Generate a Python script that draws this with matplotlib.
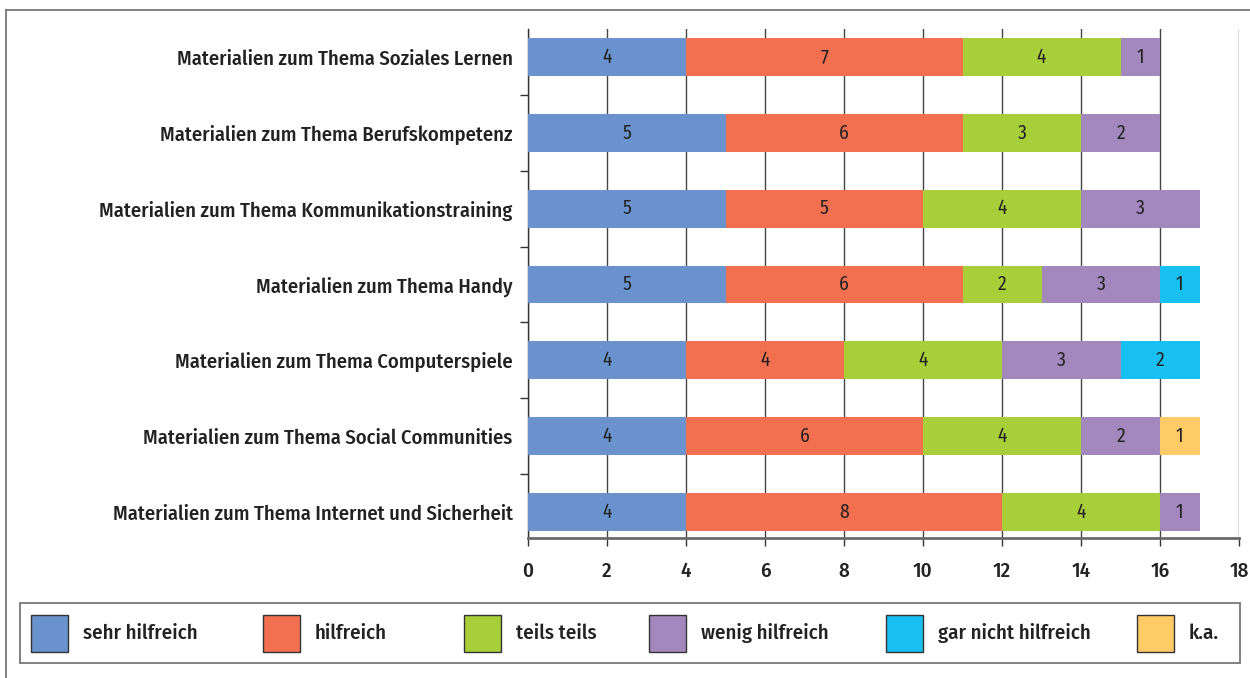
import matplotlib
matplotlib.use("Agg")
import matplotlib.pyplot as plt
from matplotlib.patches import Rectangle
from matplotlib.lines import Line2D
import numpy as np

plt.rcParams['font.family'] = ['Fira Sans Condensed', 'DejaVu Sans']

# categories listed bottom to top
themen = [
    "Materialien zum Thema Internet und Sicherheit",
    "Materialien zum Thema Social Communities",
    "Materialien zum Thema Computerspiele",
    "Materialien zum Thema Handy",
    "Materialien zum Thema Kommunikationstraining",
    "Materialien zum Thema Berufskompetenz",
    "Materialien zum Thema Soziales Lernen",
]
sehr_hilfreich = [4, 4, 4, 5, 5, 5, 4]
hilfreich = [8, 6, 4, 6, 5, 6, 7]
teils_teils = [4, 4, 4, 2, 4, 3, 4]
wenig_hilfreich = [1, 2, 3, 3, 3, 2, 1]
gar_nicht = [0, 0, 2, 1, 0, 0, 0]
keine_angabe = [0, 1, 0, 0, 0, 0, 0]

serien = [sehr_hilfreich, hilfreich, teils_teils, wenig_hilfreich, gar_nicht, keine_angabe]
namen = ["sehr hilfreich", "hilfreich", "teils teils", "wenig hilfreich",
         "gar nicht hilfreich", "k.a."]
farben = ["#6A93CD", "#F2704F", "#A8CE3A", "#A388BE", "#17C0F0", "#FFCB66"]

W, H = 1250, 678
fig = plt.figure(figsize=(W / 100, H / 100), dpi=100)
ax = fig.add_axes([528 / W, 1 - 538 / H, (1239 - 528) / W, (538 - 29) / H])

y = np.arange(len(themen))
links = np.zeros(len(themen))
for werte, farbe in zip(serien, farben):
    werte = np.array(werte)
    ax.barh(y, werte, left=links, height=0.5, color=farbe, zorder=3)
    for yi, l, v in zip(y, links, werte):
        if v > 0:
            ax.text(l + v / 2, yi, str(v), ha="center", va="center",
                    fontsize=14, color="#222222", zorder=4)
    links += werte

ax.set_xlim(0, 18)
ax.set_ylim(-0.343, 6.369)
ax.set_xticks(range(0, 19, 2))
ax.set_yticks(y)
ax.set_yticklabels(themen, fontsize=14.8, fontweight="medium", color="#222222")
ax.set_yticks(y[:-1] + 0.5, minor=True)
ax.tick_params(axis="y", which="major", length=0, pad=11)
ax.tick_params(axis="y", which="minor", length=6, width=1, color="#333333", direction="out")
ax.tick_params(axis="x", length=6, width=1, color="#333333", pad=11,
               labelsize=15, labelcolor="#222222")
for lbl in ax.get_xticklabels():
    lbl.set_fontweight("medium")

ax.grid(axis="x", color="#444444", linewidth=1, zorder=0)
ax.set_axisbelow(True)
for s in ["top", "right"]:
    ax.spines[s].set_visible(False)
ax.spines["left"].set_color("#333333")
ax.spines["left"].set_linewidth(1)
ax.spines["bottom"].set_color("#6a6a6a")
ax.spines["bottom"].set_linewidth(2)

# outer frame lines (left and top)
fig.add_artist(Line2D([6 / W, 6 / W], [0, 1 - 9.5 / H], color="#777777", lw=1.3))
fig.add_artist(Line2D([6 / W, 1], [1 - 9.5 / H, 1 - 9.5 / H], color="#777777", lw=1.3))

# legend box with manually spaced entries
fig.add_artist(Rectangle((20 / W, 1 - 663 / H), (1240 - 20) / W, 60 / H,
                         transform=fig.transFigure, facecolor="white",
                         edgecolor="#777777", lw=1.3))
leg_x = [31, 263, 464, 649, 886, 1137]
for x0, name, farbe in zip(leg_x, namen, farben):
    fig.add_artist(Rectangle((x0 / W, 1 - 652 / H), 37 / W, 37 / H,
                             transform=fig.transFigure, facecolor=farbe,
                             edgecolor="#333333", lw=1))
    fig.text((x0 + 52) / W, 1 - 633 / H, name, ha="left", va="center",
             fontsize=15, fontweight="medium", color="#222222")

fig.savefig("out.png", dpi=100)
